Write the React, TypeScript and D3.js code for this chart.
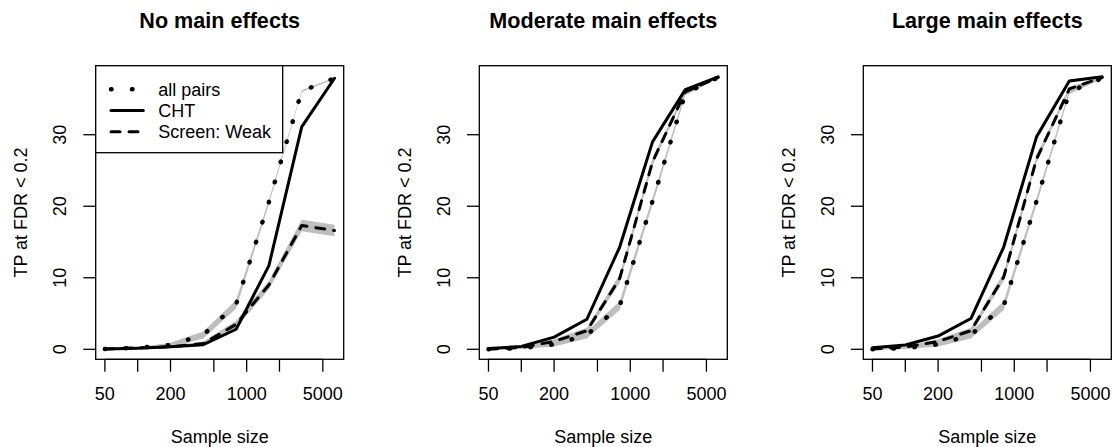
import React from "react";
import * as d3 from "d3";

// ---------- data ----------
const sampleSizes = [50, 100, 200, 400, 800, 1600, 3200, 6400];
const xTickValues = [50, 100, 200, 500, 1000, 2000, 5000];
const xTickLabels = ["50", "", "200", "", "1000", "", "5000"];
const yTickValues = [0, 10, 20, 30];
const panelTitles = ["No main effects", "Moderate main effects", "Large main effects"];
const legendLabels = ["all pairs", "CHT", "Screen: Weak"];
const xLabel = "Sample size";
const yLabel = "TP at FDR < 0.2";

// No main effects
const allPairsNone = [0.05, 0.2, 0.6, 2.0, 6.3, 20.6, 36.1, 37.9];
const chtNone = [0.05, 0.15, 0.35, 0.65, 2.8, 11.7, 31.1, 37.9];
const weakNone = [0.05, 0.2, 0.35, 0.8, 3.5, 9.0, 17.3, 16.6];
const allPairsNoneSE = [0.1, 0.1, 0.3, 0.5, 0.6, 0.3, 0.12, 0.1];
const chtNoneSE = [0.1, 0.1, 0.1, 0.15, 0.2, 0.2, 0.2, 0.1];
const weakNoneSE = [0.1, 0.1, 0.15, 0.3, 0.5, 0.6, 0.8, 0.8];

// Moderate main effects
const allPairsModerate = [0.0, 0.15, 0.7, 2.0, 6.1, 20.7, 35.8, 38.0];
const chtModerate = [0.1, 0.4, 1.7, 4.2, 14.3, 29.0, 36.3, 38.1];
const weakModerate = [0.0, 0.25, 1.1, 2.6, 9.9, 26.2, 36.0, 38.0];
const allPairsModerateSE = [0.1, 0.1, 0.3, 0.5, 0.6, 0.5, 0.3, 0.1];
const chtModerateSE = [0.1, 0.1, 0.15, 0.2, 0.2, 0.2, 0.2, 0.1];
const weakModerateSE = [0.1, 0.1, 0.3, 0.4, 0.6, 0.5, 0.3, 0.1];

// Large main effects
const allPairsLarge = [0.0, 0.15, 0.7, 2.0, 6.1, 20.7, 36.0, 37.9];
const chtLarge = [0.2, 0.6, 1.85, 4.3, 14.3, 29.7, 37.5, 38.1];
const weakLarge = [0.05, 0.3, 1.1, 2.6, 10.1, 26.6, 36.4, 38.0];
const allPairsLargeSE = [0.1, 0.1, 0.3, 0.5, 0.6, 0.5, 0.3, 0.1];
const chtLargeSE = [0.1, 0.1, 0.15, 0.2, 0.2, 0.2, 0.2, 0.1];
const weakLargeSE = [0.1, 0.1, 0.3, 0.4, 0.6, 0.5, 0.3, 0.1];

const panelData = [
  { allPairs: allPairsNone, cht: chtNone, weak: weakNone, allPairsSE: allPairsNoneSE, chtSE: chtNoneSE, weakSE: weakNoneSE },
  { allPairs: allPairsModerate, cht: chtModerate, weak: weakModerate, allPairsSE: allPairsModerateSE, chtSE: chtModerateSE, weakSE: weakModerateSE },
  { allPairs: allPairsLarge, cht: chtLarge, weak: weakLarge, allPairsSE: allPairsLargeSE, chtSE: chtLargeSE, weakSE: weakLargeSE },
];

// ---------- layout ----------
const W = 1114;
const H = 447;
const boxLefts = [95.7, 479.3, 863.3];
const boxW = 248;
const boxTop = 65.7;
const boxBottom = 359.3;
const FONT = "'Liberation Sans', Arial, Helvetica, sans-serif";
const BAND = "#bebebe";

const logPad = 0.04 * (Math.log10(6400) - Math.log10(50));

function Panel({ idx }: { idx: number }) {
  const left = boxLefts[idx];
  const right = left + boxW;
  const d = panelData[idx];
  const x = d3
    .scaleLog()
    .domain([50 / Math.pow(10, logPad), 6400 * Math.pow(10, logPad)])
    .range([left, right]);
  const y = d3.scaleLinear().domain([-1.4, 39.65]).range([boxBottom, boxTop]);

  const line = d3
    .line<number>()
    .x((_, i) => x(sampleSizes[i]))
    .y((v) => y(v));
  const area = (vals: number[], se: number[]) =>
    d3
      .area<number>()
      .x((_, i) => x(sampleSizes[i]))
      .y0((v, i) => y(v - se[i]))
      .y1((v, i) => y(v + se[i]))(vals) || "";

  const series = [
    { vals: d.allPairs, se: d.allPairsSE, dash: "0.5 20.5", w: 4.5 },
    { vals: d.weak, se: d.weakSE, dash: "9 9", w: 3 },
    { vals: d.cht, se: d.chtSE, dash: "", w: 3 },
  ];

  const cx = (left + right) / 2;
  const cy = (boxTop + boxBottom) / 2;

  return (
    <g>
      {series.map((s, i) => (
        <path key={"b" + i} d={area(s.vals, s.se)} fill={BAND} stroke="none" />
      ))}
      {series.map((s, i) => (
        <path
          key={"l" + i}
          d={line(s.vals) || ""}
          fill="none"
          stroke="#000"
          strokeWidth={s.w}
          strokeDasharray={s.dash || undefined}
          strokeLinecap="round"
          strokeLinejoin="round"
        />
      ))}
      {/* box */}
      <rect x={left} y={boxTop} width={boxW} height={boxBottom - boxTop} fill="none" stroke="#000" strokeWidth={1.3} />
      {/* x axis */}
      <line x1={x(xTickValues[0])} x2={x(xTickValues[xTickValues.length - 1])} y1={boxBottom} y2={boxBottom} stroke="#000" strokeWidth={1.3} />
      {xTickValues.map((t, i) => (
        <g key={"xt" + i}>
          <line x1={x(t)} x2={x(t)} y1={boxBottom} y2={boxBottom + 12.4} stroke="#000" strokeWidth={1.3} />
          {xTickLabels[i] && (
            <text x={x(t)} y={399.5} textAnchor="middle" fontSize={18} fontFamily={FONT}>
              {xTickLabels[i]}
            </text>
          )}
        </g>
      ))}
      {/* y axis */}
      {yTickValues.map((t, i) => (
        <g key={"yt" + i}>
          <line x1={left - 12.4} x2={left} y1={y(t)} y2={y(t)} stroke="#000" strokeWidth={1.3} />
          <text
            transform={`translate(${left - 36 + 6.4},${y(t)}) rotate(-90)`}
            textAnchor="middle"
            fontSize={18}
            fontFamily={FONT}
          >
            {t}
          </text>
        </g>
      ))}
      <text x={cx} y={28} textAnchor="middle" fontSize={21.6} fontWeight="bold" fontFamily={FONT}>
        {panelTitles[idx]}
      </text>
      <text x={cx} y={442.5} textAnchor="middle" fontSize={18} fontFamily={FONT}>
        {xLabel}
      </text>
      <text
        transform={`translate(${left - 75 + 6.4},${cy}) rotate(-90)`}
        textAnchor="middle"
        fontSize={18}
        fontFamily={FONT}
      >
        {yLabel}
      </text>
    </g>
  );
}

function Legend() {
  const lx = boxLefts[0];
  const rows = [89.3, 110.5, 131.7];
  const styles = [
    { dash: "0.5 20.5", w: 4.5 },
    { dash: "", w: 3 },
    { dash: "9 9", w: 3 },
  ];
  return (
    <g>
      <rect x={lx} y={boxTop} width={282.7 - lx} height={152.7 - boxTop} fill="#fff" stroke="#000" strokeWidth={1.3} />
      {legendLabels.map((lab, i) => (
        <g key={lab}>
          <line
            x1={111}
            x2={143.3}
            y1={rows[i]}
            y2={rows[i]}
            stroke="#000"
            strokeWidth={styles[i].w}
            strokeDasharray={styles[i].dash || undefined}
            strokeLinecap="round"
          />
          <text x={158.3} y={rows[i] + 6.4} fontSize={18} fontFamily={FONT}>
            {lab}
          </text>
        </g>
      ))}
    </g>
  );
}

export default function App() {
  return (
    <div style={{ position: "fixed", left: 0, top: 0, width: W, height: H, background: "#fff" }}>
      <svg width={W} height={H} viewBox={`0 0 ${W} ${H}`} style={{ display: "block" }}>
        <rect x={0} y={0} width={W} height={H} fill="#fff" />
        {[0, 1, 2].map((i) => (
          <Panel key={i} idx={i} />
        ))}
        <Legend />
      </svg>
    </div>
  );
}
